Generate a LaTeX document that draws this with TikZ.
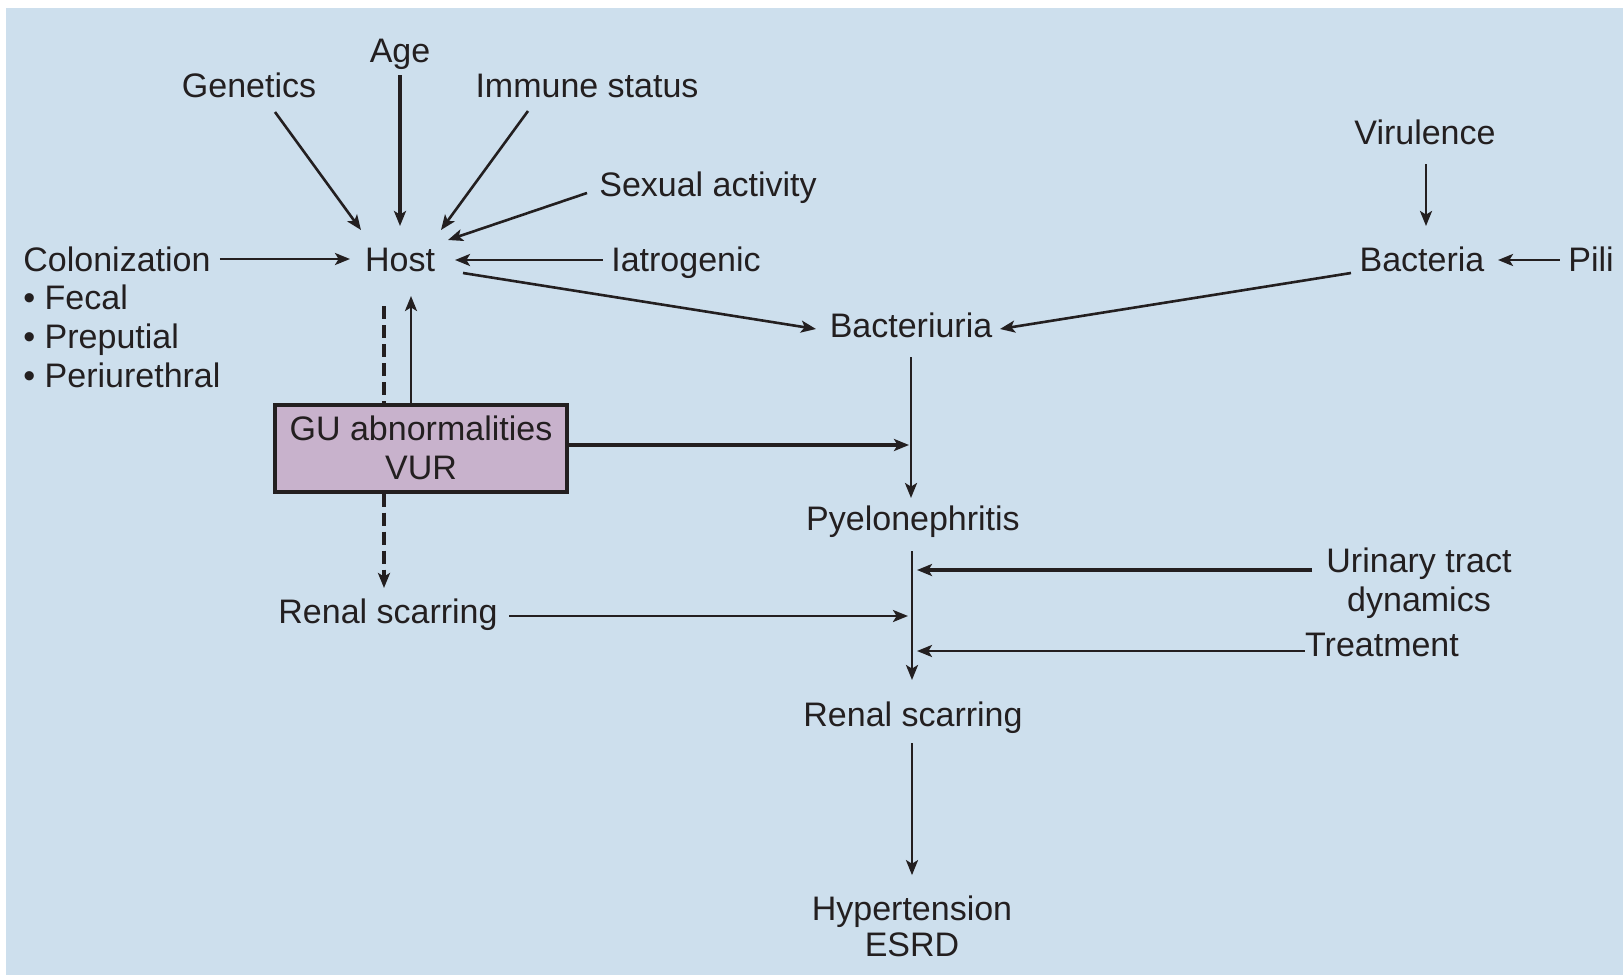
\documentclass[tikz,border=0pt]{standalone}
\usepackage{fontspec}
\setmainfont{Liberation Sans}
\usetikzlibrary{arrows.meta,calc}
\definecolor{bg}{RGB}{205,223,237}
\definecolor{gubox}{RGB}{200,178,204}
\definecolor{ink}{RGB}{35,31,32}
\begin{document}
\begin{tikzpicture}[x=0.5pt,y=-0.5pt,
  font=\fontsize{17}{19.5}\selectfont,
  lbl/.style={inner sep=0pt, text=ink, anchor=base},
  arr/.style={draw=ink, line width=1.3pt, -{Stealth[length=7.5pt,width=6pt,inset=1.8pt]}},
  thickarr/.style={arr, line width=2pt},
  dashln/.style={draw=ink, line width=1.8pt, dash pattern=on 6.5pt off 3pt},
  dasharr/.style={dashln, -{Stealth[length=7.5pt,width=6pt,inset=1.8pt]}},
  gubox/.style={draw=ink, line width=2pt, fill=gubox, inner sep=0pt,
    minimum width=146pt, minimum height=43.5pt, align=center, text=ink}]
\useasboundingbox (0,0) rectangle (1623,975);
\fill[white] (0,0) rectangle (1623,975);
\fill[bg] (6,8) rectangle (1623,975);

% nodes
\node[lbl] (age) at (400,62) {Age};
\node[lbl] (gen) at (249,97) {Genetics};
\node[lbl] (imm) at (587,97) {Immune status};
\node[lbl] (sex) at (708,196) {Sexual activity};
\node[lbl,anchor=base west] (col) at (23,271) {Colonization};
\node[lbl,anchor=base west] (fec) at (23,309) {\textbullet\ Fecal};
\node[lbl,anchor=base west] (pre) at (23,348) {\textbullet\ Preputial};
\node[lbl,anchor=base west] (per) at (23,387) {\textbullet\ Periurethral};
\node[lbl] (host) at (400,271) {Host};
\node[lbl] (iat) at (686,271) {Iatrogenic};
\node[lbl] (vir) at (1425,144) {Virulence};
\node[lbl] (bac) at (1422,271) {Bacteria};
\node[lbl] (pili) at (1591,271) {Pili};
\node[lbl] (bu) at (911,337) {Bacteriuria};
\node[gubox] (gu) at (421,448) {GU abnormalities\\VUR};
\node[lbl] (pye) at (913,530) {Pyelonephritis};
\node[lbl,anchor=center,align=center] (utd) at (1419,583) {Urinary tract\\dynamics};
\node[lbl] (trt) at (1382,656) {Treatment};
\node[lbl] (rsl) at (388,623) {Renal scarring};
\node[lbl] (rsc) at (913,726) {Renal scarring};
\node[lbl,anchor=center,align=center,font=\fontsize{17}{18}\selectfont] (hyp) at (912,926) {Hypertension\\ESRD};

\coordinate (jbox) at (909,445);
\coordinate (jut) at (917,570);
\coordinate (jrs) at (908,616);
\coordinate (jtr) at (917,651);

% connectors
\draw[arr] ($(gen.base)+(26,15)$) -- ($(host.base)+(-39,-41)$);
\draw[arr, line width=1.6pt] ($(age.base)+(0,13)$) -- ($(host.base)+(0,-45)$);
\draw[arr] ($(imm.base)+(-59,14)$) -- ($(host.base)+(41,-41)$);
\draw[arr] ($(sex.base)+(-121,-3)$) -- ($(host.base)+(48,-31)$);
\draw[arr] ($(col.base east)+(9,-12)$) -- ($(host.base)+(-50,-12)$);
\draw[arr] ($(iat.base west)+(-8,-11)$) -- ($(host.base)+(55,-11)$);
\draw[arr] ($(host.base)+(63,2)$) -- ($(bu.base)+(-95,-8)$);
\draw[arr] ($(bac.base)+(-71,2)$) -- ($(bu.base)+(89,-8)$);
\draw[arr] ($(vir.base)+(1,20)$) -- ($(bac.base)+(4,-45)$);
\draw[arr] ($(pili.base west)+(-8,-11)$) -- ($(bac.base)+(76,-11)$);
\draw[arr] ($(gu.north)+(-10,0)$) -- ($(host.base)+(11,25)$);
\draw[dashln] ($(host.base)+(-16,35)$) -- ($(gu.north)+(-37,0)$);
\draw[dasharr] ($(gu.south)+(-37,0)$) -- ($(rsl.base)+(-4,-35)$);
\draw[thickarr] ($(gu.east)+(0,-3)$) -- (jbox);
\draw[arr] ($(bu.base)+(0,20)$) -- ($(pye.base)+(-2,-32)$);
\draw[arr] ($(pye.base)+(-1,21)$) -- ($(rsc.base)+(-1,-46)$);
\draw[arr, line width=1.6pt] ($(utd.west|-jut)+(-14,0)$) -- (jut);
\draw[arr] (trt.west|-jtr) -- (jtr);
\draw[arr] ($(rsl.east|-jrs)+(11,0)$) -- (jrs);
\draw[arr] ($(rsc.base)+(-1,17)$) -- ($(hyp.north)+(0,-20)$);
\end{tikzpicture}
\end{document}
